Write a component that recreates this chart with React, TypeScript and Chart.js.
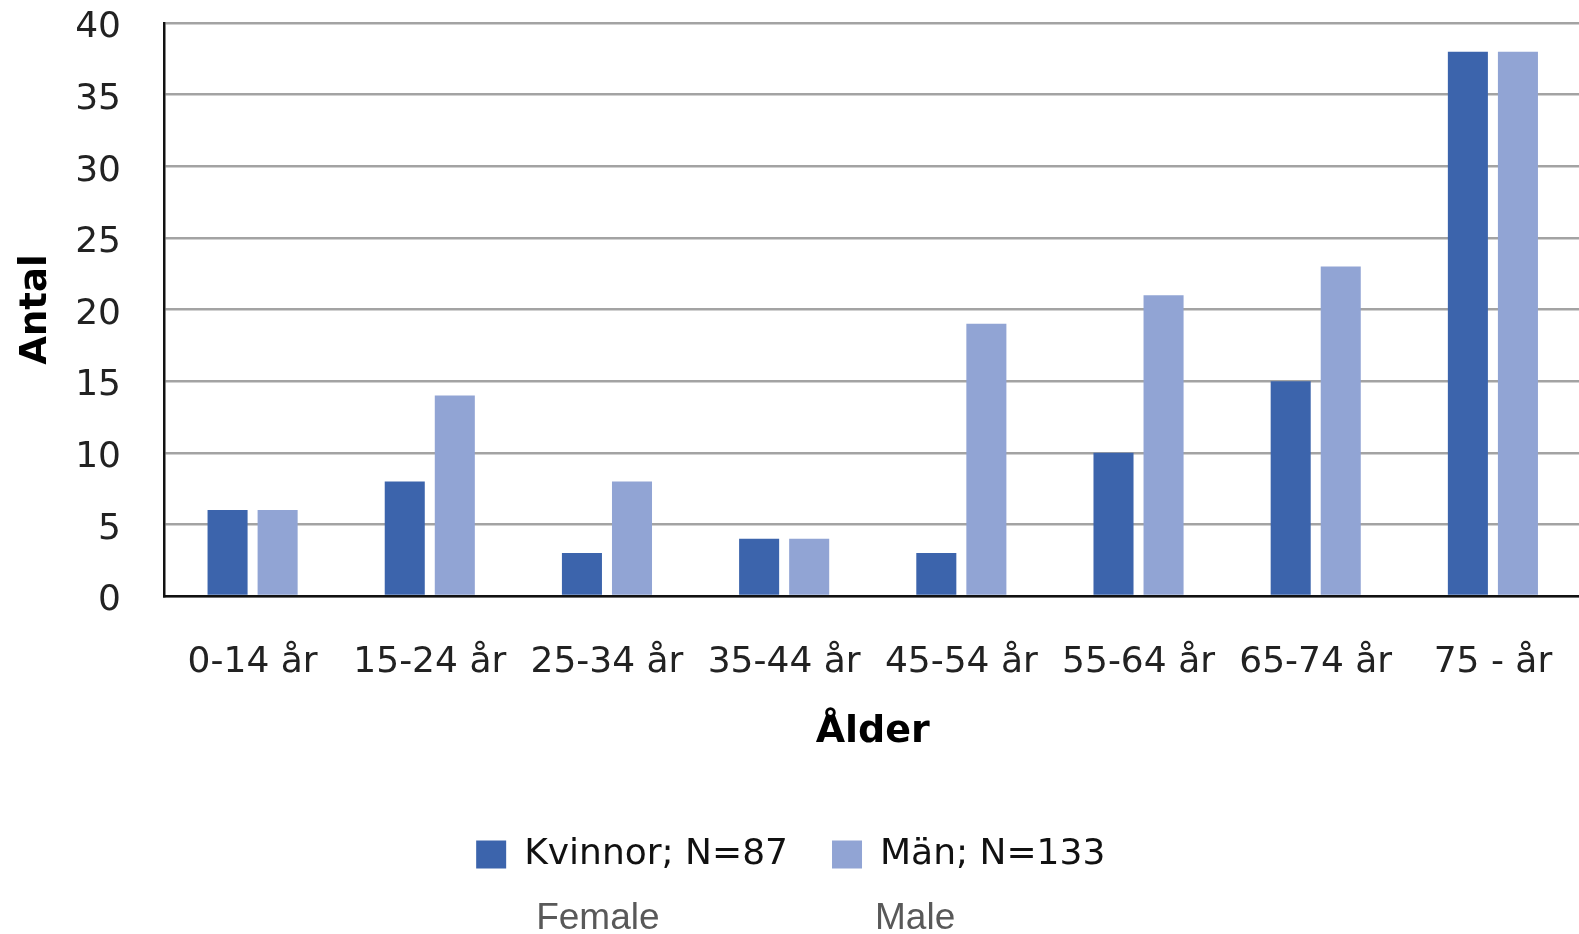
import React, { useEffect, useRef } from 'react';
import { Chart, registerables } from 'chart.js';

Chart.register(...registerables);

const categories = ['0-14 år', '15-24 år', '25-34 år', '35-44 år', '45-54 år', '55-64 år', '65-74 år', '75 - år'];
const kvinnor = [6, 8, 3, 4, 3, 10, 15, 38];
const man = [6, 14, 8, 4, 19, 21, 23, 38];
const seriesLabels = ['Kvinnor; N=87', 'Män; N=133'];
const seriesSubLabels = ['Female', 'Male'];
const seriesColors = ['#3C64AC', '#91A4D4'];
const yMin = 0;
const yMax = 40;
const yStep = 5;
const xTitle = 'Ålder';
const yTitle = 'Antal';

const FONT = '"DejaVu Sans", sans-serif';
const CANVAS_W = 1600;
const CANVAS_H = 934;
const SUB_OFFSETS = [60, 43];
const SUB_Y = 919;

const subLabelPlugin = {
  id: 'subLabels',
  afterDraw(chart: any) {
    const boxes = chart.legend && chart.legend.legendHitBoxes;
    if (!boxes) return;
    const ctx = chart.ctx;
    ctx.save();
    ctx.font = '37px "Liberation Sans", Arial, sans-serif';
    ctx.fillStyle = '#595959';
    ctx.textBaseline = 'middle';
    ctx.textAlign = 'left';
    boxes.forEach((b: any, i: number) => {
      if (seriesSubLabels[i]) ctx.fillText(seriesSubLabels[i], b.left + SUB_OFFSETS[i], SUB_Y);
    });
    ctx.restore();
  },
};

export default function App() {
  const ref = useRef<HTMLCanvasElement | null>(null);
  useEffect(() => {
    if (!ref.current) return;
    const chart = new Chart(ref.current, {
      type: 'bar',
      data: {
        labels: categories,
        datasets: [
          { label: seriesLabels[0], data: kvinnor, backgroundColor: seriesColors[0], borderWidth: 0 },
          { label: seriesLabels[1], data: man, backgroundColor: seriesColors[1], borderWidth: 0 },
        ],
      },
      plugins: [subLabelPlugin],
      options: {
        responsive: false,
        animation: false,
        devicePixelRatio: 1,
        categoryPercentage: 100 / 177,
        barPercentage: 0.8,
        layout: { padding: { left: 0, right: 18.5, top: 23, bottom: 51.5 } },
        plugins: {
          tooltip: { enabled: false },
          legend: {
            position: 'bottom',
            labels: {
              boxWidth: 30,
              boxHeight: 28,
              padding: 44,
              color: '#111',
              font: { family: FONT, size: 36 },
            },
          },
        },
        scales: {
          x: {
            grid: { display: false, drawTicks: true, tickLength: 45, tickColor: 'rgba(0,0,0,0)' },
            border: { display: true, color: '#111', width: 2.5 },
            ticks: { color: '#222', font: { family: FONT, size: 36 }, padding: 0, maxRotation: 0, autoSkip: false },
            title: { display: true, text: xTitle, color: '#000', font: { family: FONT, size: 38, weight: 'bold' }, padding: { top: 0, bottom: 38 } },
            afterFit(scale: any) { scale.height = 196.5; },
          },
          y: {
            min: yMin,
            max: yMax,
            grid: { color: '#a3a3a3', lineWidth: 2.5, drawTicks: true, tickLength: 43, tickColor: 'rgba(0,0,0,0)' },
            border: { display: true, color: '#111', width: 2.5 },
            ticks: { stepSize: yStep, color: '#222', font: { family: FONT, size: 36 }, padding: 0, labelOffset: 5 },
            title: { display: true, text: yTitle, color: '#000', font: { family: FONT, size: 37, weight: 'bold' }, padding: { top: 14, bottom: 0 } },
            afterFit(scale: any) { scale.width = 164; },
          },
        },
      },
    } as any);
    return () => chart.destroy();
  }, []);
  return (
    <div style={{ position: 'fixed', left: 0, top: 0, width: 1579, height: 934, overflow: 'hidden', background: '#fff' }}>
      <canvas ref={ref} width={CANVAS_W} height={CANVAS_H} style={{ display: 'block', width: CANVAS_W, height: CANVAS_H }} />
    </div>
  );
}
